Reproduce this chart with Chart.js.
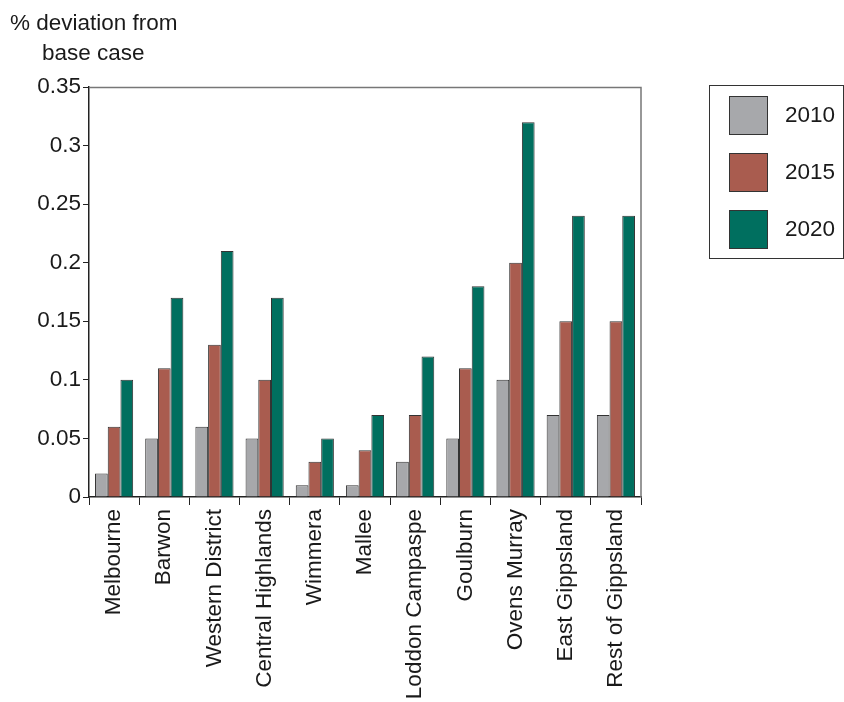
<!DOCTYPE html>
<html><head><meta charset="utf-8">
<script src="https://cdn.jsdelivr.net/npm/chart.js@4"></script>
<style>html,body{margin:0;padding:0;background:#fff}#wrap{width:844px;height:702px;position:relative}</style>
</head><body><div id="wrap"><canvas id="c" width="844" height="702"></canvas></div>
<script>
const categories = ["Melbourne","Barwon","Western District","Central Highlands","Wimmera","Mallee","Loddon Campaspe","Goulburn","Ovens Murray","East Gippsland","Rest of Gippsland"];
const series2010 = [0.02,0.05,0.06,0.05,0.01,0.01,0.03,0.05,0.10,0.07,0.07];
const series2015 = [0.06,0.11,0.13,0.10,0.03,0.04,0.07,0.11,0.20,0.15,0.15];
const series2020 = [0.10,0.17,0.21,0.17,0.05,0.07,0.12,0.18,0.32,0.24,0.24];
const seriesNames = ["2010","2015","2020"];
const colors = ["#a7a8ab","#a95c4f","#006f5f"];
const yTitle = ["% deviation from","base case"];
const FONT = "'Liberation Sans', Arial, sans-serif";

const framePlugin = {
  id:'frame',
  afterDraw(chart){
    const {ctx, chartArea:a} = chart;
    ctx.save();
    ctx.strokeStyle = '#777'; ctx.lineWidth = 1.5;
    ctx.beginPath();
    ctx.moveTo(a.left, a.top+0.5); ctx.lineTo(a.right, a.top+0.5); ctx.lineTo(a.right, a.bottom);
    ctx.stroke();
    // title
    ctx.fillStyle = '#1a1a1a'; ctx.font = '22.5px ' + FONT; ctx.textBaseline = 'alphabetic'; ctx.textAlign='left';
    ctx.fillText(yTitle[0], 10, 30);
    ctx.fillText(yTitle[1], 42, 60);
    // legend
    ctx.strokeStyle = '#333'; ctx.lineWidth = 1;
    ctx.strokeRect(709.5, 85.5, 134, 173);
    chart.data.datasets.forEach((ds,i)=>{
      const y = 96 + i*57;
      ctx.fillStyle = ds.backgroundColor;
      ctx.fillRect(729, y, 38, 38);
      ctx.strokeStyle = '#333';
      ctx.strokeRect(729.5, y+0.5, 38, 38);
      ctx.fillStyle = '#1a1a1a'; ctx.textBaseline='middle';
      ctx.fillText(ds.label, 785, y+20);
    });
    ctx.restore();
  }
};

new Chart(document.getElementById('c'), {
  type:'bar',
  data:{
    labels: categories,
    datasets: [series2010, series2015, series2020].map((d,i)=>({
      label: seriesNames[i], data: d, backgroundColor: colors[i],
      borderColor:'#333', borderWidth:1, borderSkipped:'bottom',
      categoryPercentage:0.76, barPercentage:1.0
    }))
  },
  options:{
    responsive:false, animation:false, devicePixelRatio:1,
    layout:{padding:{left:0,right:203,top:87,bottom:0}},
    plugins:{legend:{display:false}, tooltip:{enabled:false}},
    scales:{
      x:{
        afterFit(s){ s.height = 205; },
        grid:{display:true, drawOnChartArea:false, drawTicks:true, tickLength:8, color:'#222', offset:true},
        border:{display:true, color:'#222', width:1.5},
        ticks:{color:'#1a1a1a', font:{family:FONT, size:22.5}, minRotation:90, maxRotation:90, autoSkip:false, padding:4}
      },
      y:{
        min:0, max:0.35,
        afterFit(s){ s.width = 89; },
        grid:{display:true, drawOnChartArea:false, drawTicks:true, tickLength:6, color:'#222'},
        border:{display:true, color:'#222', width:1.5},
        ticks:{stepSize:0.05, color:'#1a1a1a', font:{family:FONT, size:22.5}, padding:2,
          callback:v=>String(Math.round(v*100)/100)}
      }
    }
  },
  plugins:[framePlugin]
});
</script></body></html>
